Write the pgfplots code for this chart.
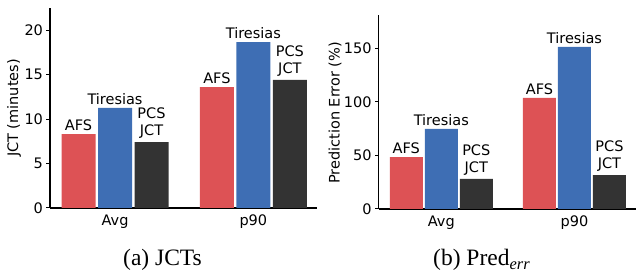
\documentclass[border=0pt]{standalone}
\usepackage{fontspec}
\setmainfont{Liberation Serif}
\newfontfamily\dejavu{DejaVu Sans}
\usepackage{pgfplots}
\pgfplotsset{compat=1.18}
\definecolor{cred}{RGB}{221,82,85}
\definecolor{cblue}{RGB}{62,110,180}
\definecolor{cdark}{RGB}{51,51,51}
\newcommand{\af}{\dejavu\fontsize{14.5}{17}\selectfont}
\pgfplotsset{
  mybars/.style={
    scale only axis,
    ybar,
    axis x line*=bottom, axis y line*=left,
    x axis line style={-}, y axis line style={-},
    axis line style={line width=1.2pt, black},
    xmin=-0.47, xmax=1.46, ymin=0,
    xtick={0,1}, xticklabels={Avg,p90},
    xtick style={draw=none},
    ytick pos=left, tick align=outside, major tick length=3.5pt,
    ytick style={line width=1pt, black},
    /pgf/number format/assume math mode=true,
    tick label style={font=\af},
    label style={font=\af},
    every node near coord/.append style={font=\af, align=center, text=black},
    nodes near coords align={vertical},
  }
}
\begin{document}
\begin{tikzpicture}
\useasboundingbox (0,0) rectangle (637pt,272pt);
\begin{axis}[mybars,
  at={(50pt,64pt)}, anchor=south west,
  width=267pt, height=200pt,
  ymax=22.5, ytick={0,5,10,15,20},
  bar width=34pt, ybar=2.5pt,
  ylabel={JCT (minutes)},
  ylabel style={at={(axis description cs:-0.135,0.5)}, anchor=center},
]
\addplot[fill=cred, draw=none, nodes near coords={AFS}] coordinates {(0,8.3) (1,13.6)};
\addplot[fill=cblue, draw=none, nodes near coords={Tiresias}] coordinates {(0,11.25) (1,18.65)};
\addplot[fill=cdark, draw=none, nodes near coords={PCS\\JCT}] coordinates {(0,7.4) (1,14.4)};
\end{axis}
\begin{axis}[mybars,
  at={(378.7pt,63pt)}, anchor=south west,
  width=257pt, height=194pt,
  ymax=181, ytick={0,50,100,150},
  bar width=33pt, ybar=2pt,
  ylabel={Prediction Error (\%)},
  ylabel style={at={(axis description cs:-0.17,0.495)}, anchor=center},
]
\addplot[fill=cred, draw=none, nodes near coords={AFS}] coordinates {(0,48.5) (1,103.6)};
\addplot[fill=cblue, draw=none, nodes near coords={Tiresias}] coordinates {(0,74.7) (1,151.3)};
\addplot[fill=cdark, draw=none, nodes near coords={PCS\\JCT}] coordinates {(0,28) (1,31.7)};
\end{axis}
\node[anchor=base, font=\fontsize{23.5}{26}\selectfont] at (162.5pt,6pt) {(a) JCTs};
\node[anchor=base west, inner sep=0pt, font=\fontsize{23.5}{26}\selectfont] at (433pt,6pt) {(b) Pred\textsubscript{\textit{err}}};
\end{tikzpicture}
\end{document}
